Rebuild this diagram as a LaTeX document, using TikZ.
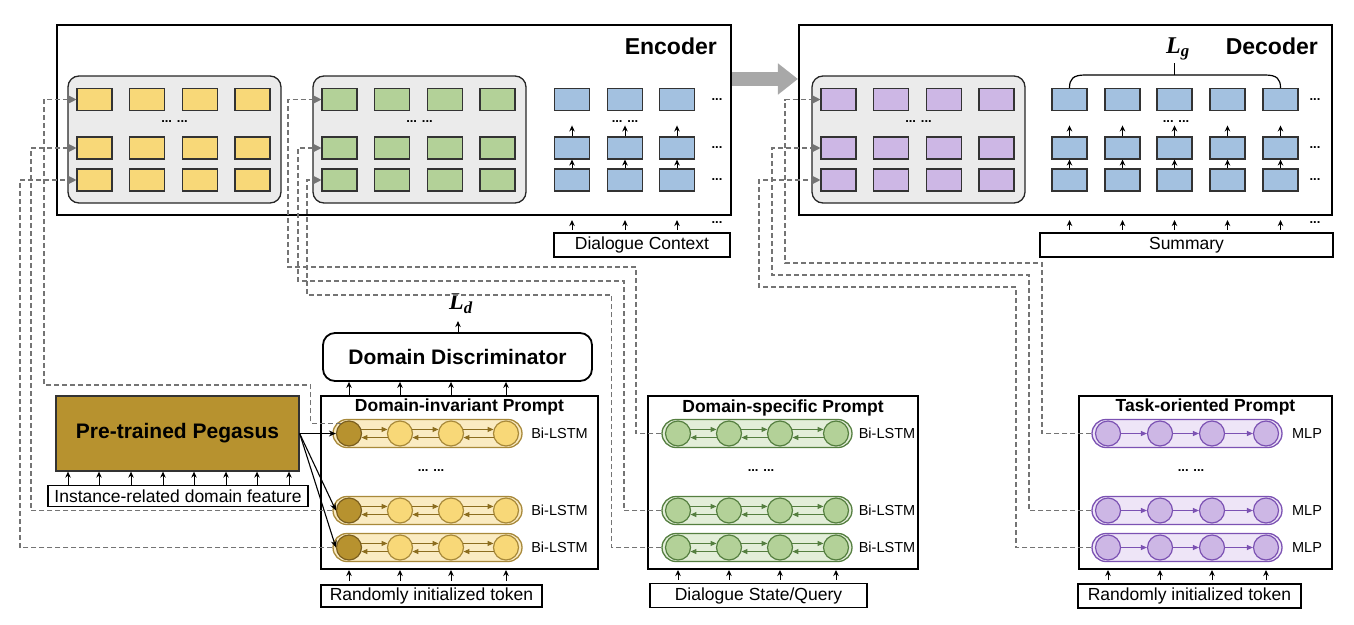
\documentclass[tikz,border=0pt]{standalone}
\usepackage{fontspec}
\setmainfont{Liberation Sans}
\newfontfamily\lossfont{Liberation Serif}
\usetikzlibrary{arrows.meta,calc}
\definecolor{cyel}{HTML}{F8D878}
\definecolor{cgrn}{HTML}{B3D198}
\definecolor{cblu}{HTML}{A3C1E0}
\definecolor{cpur}{HTML}{CDB7E5}
\definecolor{cpanel}{HTML}{EBEBEB}
\definecolor{cpeg}{HTML}{B7922F}
\definecolor{ydk}{HTML}{7A5E1E}
\definecolor{ybord}{HTML}{A8893A}
\definecolor{ylite}{HTML}{FAEBC2}
\definecolor{yarrc}{HTML}{8C6D1F}
\definecolor{gbord}{HTML}{557F40}
\definecolor{glite}{HTML}{E3EED9}
\definecolor{pbord}{HTML}{7C52B3}
\definecolor{plite}{HTML}{EEE5F7}
\definecolor{dgray}{HTML}{747474}
\definecolor{agray}{HTML}{A8A8A8}
\begin{document}
\begin{tikzpicture}[x=1pt,y=-1pt,
  cell/.style={draw=black!80, line width=1.1pt, minimum width=35pt, minimum height=22pt, inner sep=0pt},
  panel/.style={draw=black!85, line width=1.3pt, fill=cpanel, rounded corners=11pt, minimum width=213pt, minimum height=127pt, inner sep=0pt},
  bigbox/.style={draw=black, line width=2.1pt, inner sep=0pt},
  pbox/.style={draw=black, line width=2pt, inner sep=0pt},
  lbox/.style={draw=black, line width=1.7pt, inner sep=0pt, font=\fontsize{17.5}{20}\selectfont},
  bigtitle/.style={font=\bfseries\fontsize{23}{26}\selectfont, inner sep=0pt},
  ptitle/.style={font=\bfseries\fontsize{17.5}{20}\selectfont, inner sep=0pt},
  sidelbl/.style={font=\fontsize{14.5}{17}\selectfont, inner sep=0pt},
  dotlbl/.style={font=\bfseries\fontsize{13}{14}\selectfont, inner sep=0pt},
  uparr/.style={-{Stealth[length=6pt,width=5.5pt]}, line width=1pt},
  dline/.style={draw=dgray, line width=1.2pt, dash pattern=on 5pt off 3pt},
  darr/.style={dline, -{Triangle[length=8pt,width=8pt]}},
  capsule/.style={rounded corners=14pt, minimum height=28pt, inner sep=0pt, line width=1.3pt},
  bub/.style={circle, minimum size=25pt, inner sep=0pt, line width=1.2pt},
  losslbl/.style={font=\lossfont\bfseries\itshape\fontsize{24}{26}\selectfont, inner sep=0pt},
  tipy/.style={-{Triangle[length=6pt,width=5pt]}, line width=1.1pt, draw=yarrc, fill=yarrc},
  tipg/.style={-{Triangle[length=6pt,width=5pt]}, line width=1.1pt, draw=gbord, fill=gbord},
  tipp/.style={-{Triangle[length=6pt,width=5pt]}, line width=1.1pt, draw=pbord, fill=pbord},
  pegarr/.style={-{Stealth[length=7pt,width=6pt]}, line width=1.1pt},
]
\useasboundingbox (0,0) rectangle (1354,624);

% ---------- Encoder / Decoder frames ----------
\node[bigbox, minimum width=674pt, minimum height=190pt] (enc) at (394,120) {};
\node[bigbox, minimum width=533pt, minimum height=190pt] (dec) at (1065.5,120) {};
\node[bigtitle, anchor=base east] (enct) at (717,54) {Encoder};
\node[bigtitle, anchor=base east] (dect) at (1318,54) {Decoder};
\draw[agray, line width=14pt, -{Triangle[length=20pt,width=30pt]}] (enc.east |- 0,79) -- (dec.west |- 0,79);

% ---------- Panels ----------
\node[panel] (yp) at (174.5,139.5) {};
\node[panel] (gp) at (419.5,139.5) {};
\node[panel] (pp) at (918.5,139.5) {};
\foreach \r/\yy in {1/99.5,2/148,3/180}{
  \foreach \c/\xx in {1/26.5,2/79,3/132,4/184.5}{
    \node[cell, fill=cyel] (y\r\c) at (68+\xx,\yy) {};
    \node[cell, fill=cgrn] (g\r\c) at (313+\xx,\yy) {};
    \node[cell, fill=cpur] (p\r\c) at (812+\xx,\yy) {};
  }
}
\node[dotlbl] (ydots) at (174.5,122) {... ...};
\node[dotlbl] (gdots) at (419.5,122) {... ...};
\node[dotlbl] (pdots) at (918.5,122) {... ...};

% ---------- Encoder blue stack ----------
\foreach \r/\yy in {1/99.5,2/148,3/180}{
  \foreach \c/\xx in {1/572,2/625,3/677}{
    \node[cell, fill=cblu] (eb\r\c) at (\xx,\yy) {};
  }
  \node[dotlbl] (ed\r) at (717,\yy) {...};
}
\foreach \c in {1,2,3}{
  \draw[uparr] (eb3\c.north) -- (eb2\c.south);
  \draw[uparr] (eb2\c.north) -- ++(0,-11);
}
\node[dotlbl] (edots) at (625,122) {... ...};
\node[lbox, minimum width=176pt, minimum height=24pt] (dc) at (642,245) {Dialogue Context};
\foreach \c in {1,2,3}{
  \draw[uparr, shorten <=2pt, shorten >=4pt] (dc.north -| eb3\c) -- (enc.south -| eb3\c);
}
\node[dotlbl] (dcd) at (717,223) {...};

% ---------- Decoder blue stack ----------
\foreach \r/\yy in {1/99.5,2/148,3/180}{
  \foreach \c/\xx in {1/1069.5,2/1122.5,3/1174.5,4/1227.5,5/1280.5}{
    \node[cell, fill=cblu] (db\r\c) at (\xx,\yy) {};
  }
  \node[dotlbl] (dd\r) at (1315,\yy) {...};
}
\foreach \c in {1,...,5}{
  \draw[uparr] (db3\c.north) -- (db2\c.south);
  \draw[uparr] (db2\c.north) -- ++(0,-11);
}
\node[dotlbl] (ddots) at (1176,122) {... ...};
\node[lbox, minimum width=293pt, minimum height=24pt] (sum) at (1186.5,245) {Summary};
\foreach \c in {1,...,5}{
  \draw[uparr, shorten <=2pt, shorten >=4pt] (sum.north -| db3\c) -- (dec.south -| db3\c);
}
\node[dotlbl] (sumd) at (1315,223) {...};
% brace L_g
\draw[line width=1.2pt] (db11.north) .. controls (1069.5,79) and (1073,75) .. (1085,75) -- (1265,75) .. controls (1277,75) and (1280.5,79) .. (db15.north);
\coordinate (bmid) at (db13.north |- 0,75);
\draw[line width=1.2pt] (bmid) -- ++(0,-12);
\node[losslbl] (lg) at (1178,49) {L\textsubscript{g}};

% ---------- Pegasus ----------
\node[draw=black!80, line width=1.3pt, fill=cpeg, minimum width=243pt, minimum height=75pt, inner sep=0pt, font=\bfseries\fontsize{21}{24}\selectfont] (peg) at (177.5,433.5) {Pre-trained Pegasus};
\node[lbox, minimum width=260pt, minimum height=21pt] (inst) at (178,496) {Instance-related domain feature};
\foreach \xx in {68,99,131,163,194,226,257,289}{
  \draw[uparr] (inst.north -| \xx,0) -- (peg.south -| \xx,0);
}

% ---------- Domain-invariant prompt ----------
\node[pbox, minimum width=277pt, minimum height=173pt] (dip) at (459.5,482.5) {};
\node[ptitle] (dipt) at (459.5,407) {Domain-invariant Prompt};
\foreach \r/\yy in {1/433.5,2/510.5,3/547.5}{
  \node[capsule, draw=ybord, fill=ylite, minimum width=189pt] (ycap\r) at (427.5,\yy) {};
  \node[bub, draw=ydk, fill=cpeg] (yb\r1) at (349,\yy) {};
  \foreach \c/\xx in {2/400,3/451,4/506}{
    \node[bub, draw=ybord, fill=cyel] (yb\r\c) at (\xx,\yy) {};
  }
  \foreach \a/\b in {1/2,2/3,3/4}{
    \draw[tipy] (yb\r\a.18) -- (yb\r\b.162);
    \draw[tipy] (yb\r\b.198) -- (yb\r\a.342);
  }
  \node[sidelbl] (ylab\r) at (559.5,\yy) {Bi-LSTM};
}
\node[dotlbl] (ypd) at (431,471) {... ...};
\node[lbox, minimum width=221pt, minimum height=22pt] (yrand) at (431.5,596) {Randomly initialized token};
\foreach \c in {1,...,4}{
  \draw[uparr, shorten <=3pt] (yrand.north -| yb3\c) -- (dip.south -| yb3\c);
}
% Domain discriminator
\node[draw=black, line width=1.8pt, rounded corners=12pt, minimum width=269pt, minimum height=48pt, inner sep=0pt, font=\bfseries\fontsize{21}{24}\selectfont] (disc) at (457.5,357) {Domain Discriminator};
\foreach \c in {1,...,4}{
  \draw[uparr] (dip.north -| yb1\c) -- (disc.south -| yb1\c);
}
\draw[uparr] (disc.north -| 458,0) -- ++(0,-11);
\node[losslbl] (ld) at (461,304) {L\textsubscript{d}};
% Pegasus to first tokens
\draw[pegarr] (peg.east |- yb11) -- (yb11.west);
\draw[pegarr] (peg.east |- yb11) -- (yb21.west);
\draw[pegarr] (peg.east |- yb11) -- (yb31.west);

% ---------- Domain-specific prompt ----------
\node[pbox, minimum width=270pt, minimum height=173pt] (dsp) at (783,482.5) {};
\node[ptitle] (dspt) at (783,408) {Domain-specific Prompt};
\foreach \r/\yy in {1/433.5,2/510.5,3/547.5}{
  \node[capsule, draw=gbord, fill=glite, minimum width=190pt] (gcap\r) at (757,\yy) {};
  \foreach \c/\xx in {1/678,2/729,3/780,4/836}{
    \node[bub, draw=gbord, fill=cgrn] (gb\r\c) at (\xx,\yy) {};
  }
  \foreach \a/\b in {1/2,2/3,3/4}{
    \draw[tipg] (gb\r\a.18) -- (gb\r\b.162);
    \draw[tipg] (gb\r\b.198) -- (gb\r\a.342);
  }
  \node[sidelbl] (glab\r) at (887,\yy) {Bi-LSTM};
}
\node[dotlbl] (gpd) at (761,471) {... ...};
\node[lbox, minimum width=217pt, minimum height=24pt] (gstate) at (758.5,595.5) {Dialogue State/Query};
\foreach \c in {1,...,4}{
  \draw[uparr, shorten <=3pt] (gstate.north -| gb3\c) -- (dsp.south -| gb3\c);
}

% ---------- Task-oriented prompt ----------
\node[pbox, minimum width=253pt, minimum height=173pt] (top) at (1205.5,482.5) {};
\node[ptitle] (topt) at (1205.5,407) {Task-oriented Prompt};
\foreach \r/\yy in {1/433.5,2/510.5,3/547.5}{
  \node[capsule, draw=pbord, fill=plite, minimum width=190pt] (pcap\r) at (1187,\yy) {};
  \foreach \c/\xx in {1/1108,2/1160,3/1212,4/1266}{
    \node[bub, draw=pbord, fill=cpur] (pb\r\c) at (\xx,\yy) {};
  }
  \foreach \a/\b in {1/2,2/3,3/4}{
    \draw[tipp] (pb\r\a.east) -- (pb\r\b.west);
  }
  \node[sidelbl] (plab\r) at (1307,\yy) {MLP};
}
\node[dotlbl] (ppd) at (1191,471) {... ...};
\node[lbox, minimum width=223pt, minimum height=24pt] (prand) at (1189.5,596) {Randomly initialized token};
\foreach \c in {1,...,4}{
  \draw[uparr, shorten <=3pt] (prand.north -| pb3\c) -- (top.south -| pb3\c);
}

% ---------- Dashed routes ----------
\draw[darr] (yb11.130) -- ++(-30,0) |- (44,385) |- (y11.west);
\draw[darr] (ycap2.west) -- (ycap2.west -| 31,0) |- (y21.west);
\draw[darr] (ycap3.west) -- (ycap3.west -| 20,0) |- (y31.west);
\draw[darr] (gcap1.west) -| (636,267) -| (g11.west -| 288,0) -- (g11.west);
\draw[darr] (gcap2.west) -| (624,281) -| (g21.west -| 298,0) -- (g21.west);
\draw[darr] (gcap3.west) -| (611.5,295) -| (g31.west -| 307,0) -- (g31.west);
\draw[darr] (pcap1.west) -| (1042,263) -| (p11.west -| 785,0) -- (p11.west);
\draw[darr] (pcap2.west) -| (1029,275) -| (p21.west -| 772,0) -- (p21.west);
\draw[darr] (pcap3.west) -| (1016,287) -| (p31.west -| 759,0) -- (p31.west);
\end{tikzpicture}
\end{document}
